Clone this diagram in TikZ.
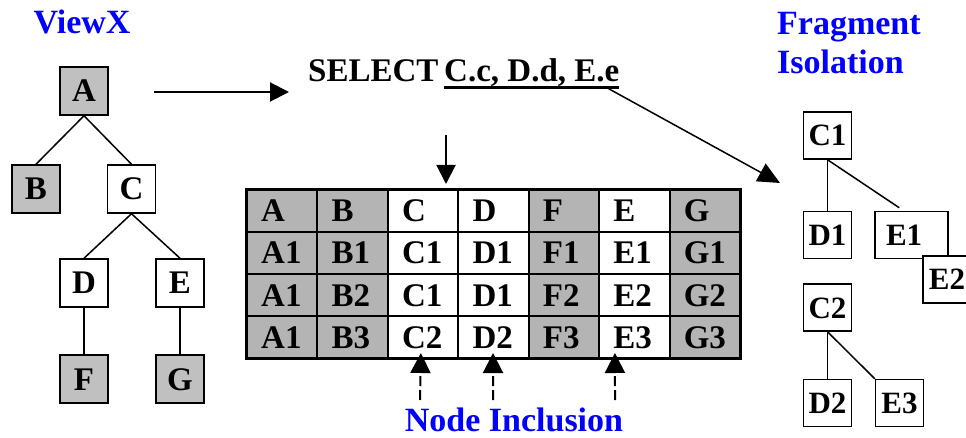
\documentclass[tikz,border=0pt]{standalone}
\usepackage{fontspec}
\setmainfont{Liberation Serif}
\usetikzlibrary{arrows.meta,calc}
\definecolor{treegray}{RGB}{192,192,192}
\definecolor{tablegray}{RGB}{180,180,180}
\definecolor{labelblue}{RGB}{0,0,255}

\begin{document}
\begin{tikzpicture}[x=1pt,y=-1pt,
  txt/.style={font=\fontsize{33}{36}\bfseries\selectfont, text height=22pt, text depth=0pt},
  qtxt/.style={font=\fontsize{33}{36}\bfseries\selectfont, inner sep=0pt},
  tbox/.style={txt, draw, line width=1.5pt, minimum width=48pt, minimum height=48pt, inner sep=0pt},
  shaded/.style={fill=treegray},
  fbox/.style={draw, fill=white, line width=1.5pt, minimum width=48pt, minimum height=47pt, inner sep=0pt,
    font=\fontsize{31}{34}\bfseries\selectfont, text height=21pt, text depth=0pt},
  cell/.style={txt, draw, line width=2pt, minimum width=70.43pt, minimum height=42pt,
    text width=42pt, inner xsep=0pt, inner ysep=0pt, align=left},
  bluelabel/.style={font=\fontsize{34}{39}\bfseries\selectfont, text=labelblue, inner sep=0pt},
  link/.style={line width=1.5pt},
  bigarrow/.style={line width=2pt, -{Triangle[length=19pt,width=19pt]}},
  dasharrow/.style={line width=2pt, dash pattern=on 10pt off 4pt, -{Triangle[length=20pt,width=20pt]}},
  ]
\useasboundingbox (0,0) rectangle (966,438);

% ---------- view tree ----------
\node[bluelabel, anchor=base] (viewx) at (82,34) {ViewX};
\node[tbox, shaded] (vA) at (84,91) {A};
\node[tbox, shaded] (vB) at (36,189) {B};
\node[tbox] (vC) at (131.5,189) {C};
\node[tbox] (vD) at (84,283) {D};
\node[tbox] (vE) at (180,283) {E};
\node[tbox, shaded] (vF) at (84,379) {F};
\node[tbox, shaded] (vG) at (180,379) {G};
\draw[link] (vA.south) -- (vB.north);
\draw[link] (vA.south) -- (vC.north);
\draw[link] (vC.south) -- (vD.north);
\draw[link] (vC.south) -- (vE.north);
\draw[link] (vD.south) -- (vF.north);
\draw[link] (vE.south) -- (vG.north);

% ---------- query ----------
\node[qtxt, anchor=base west] (sel) at (308,82) {SELECT};
\node[qtxt, anchor=base west] (cols) at (444,82) {C.c, D.d, E.e};
\draw[line width=3pt] ($(cols.base west)+(0,5.5)$) -- ($(cols.base east)+(0,5.5)$);

\coordinate (viewOut) at (154,92);
\coordinate (selIn) at (289,92);
\draw[bigarrow] (viewOut) -- (selIn);

\coordinate (qOut) at (446,135);
\coordinate (qIn) at (446,184);
\draw[bigarrow] (qOut) -- (qIn);

% ---------- result table ----------
\foreach \c/\L/\f/\p/\q/\s in {0/A/tablegray/1/1/1, 1/B/tablegray/1/2/3, 2/C/white/1/1/2,
    3/D/white/1/1/2, 4/F/tablegray/1/2/3, 5/E/white/1/2/3, 6/G/tablegray/1/2/3} {
  \pgfmathsetmacro\cx{247+70.43*(\c+0.5)}
  \node[cell, fill=\f] (cell-\L-0) at (\cx,211) {\L};
  \node[cell, fill=\f] (cell-\L-1) at (\cx,253) {\L\p};
  \node[cell, fill=\f] (cell-\L-2) at (\cx,295) {\L\q};
  \node[cell, fill=\f] (cell-\L-3) at (\cx,337) {\L\s};
}
\draw[line width=2.5pt] (cell-A-0.north west) rectangle (cell-G-3.south east);

% ---------- node inclusion ----------
\node[bluelabel, anchor=base] (incl) at (514,431) {Node Inclusion};
\coordinate (inC) at (420,400);
\coordinate (inD) at (493,400);
\coordinate (inE) at (615,400);
\draw[dasharrow] (inC) -- ($(cell-C-3.south)+(-2.2,-6)$);
\draw[dasharrow] (inD) -- ($(cell-D-3.south)+(-0.5,-6)$);
\draw[dasharrow] (inE) -- ($(cell-E-3.south)+(-19.4,-6)$);

% ---------- fragment isolation ----------
\node[bluelabel, anchor=north west, align=left] (frag) at (777,12) {Fragment\\Isolation};
\coordinate (fragIn) at (780,183);
\draw[line width=1.5pt, -{Triangle[length=22pt,width=20pt]}] ($(cols.base east)+(-13,5.5)$) -- (fragIn);

\node[fbox] (fC1) at (827.5,135.5) {C1};
\node[fbox] (fD1) at (827.5,235) {D1};
\node[fbox, minimum width=73pt, text width=51pt, align=left] (fE1) at (911.5,235) {E1};
\node[fbox] (fE2) at (947,279.5) {E2};
\node[fbox] (fC2) at (827.5,307.5) {C2};
\node[fbox] (fD2) at (827.5,403) {D2};
\node[fbox] (fE3) at (899.5,403) {E3};
\draw[link] (fC1.south) -- (fD1.north);
\draw[link] (fC1.south) -- ($(fE1.north west)+(25,-3)$);
\draw[link] (fC2.south) -- (fD2.north);
\draw[link] (fC2.south) -- (fE3.north west);
\end{tikzpicture}
\end{document}
